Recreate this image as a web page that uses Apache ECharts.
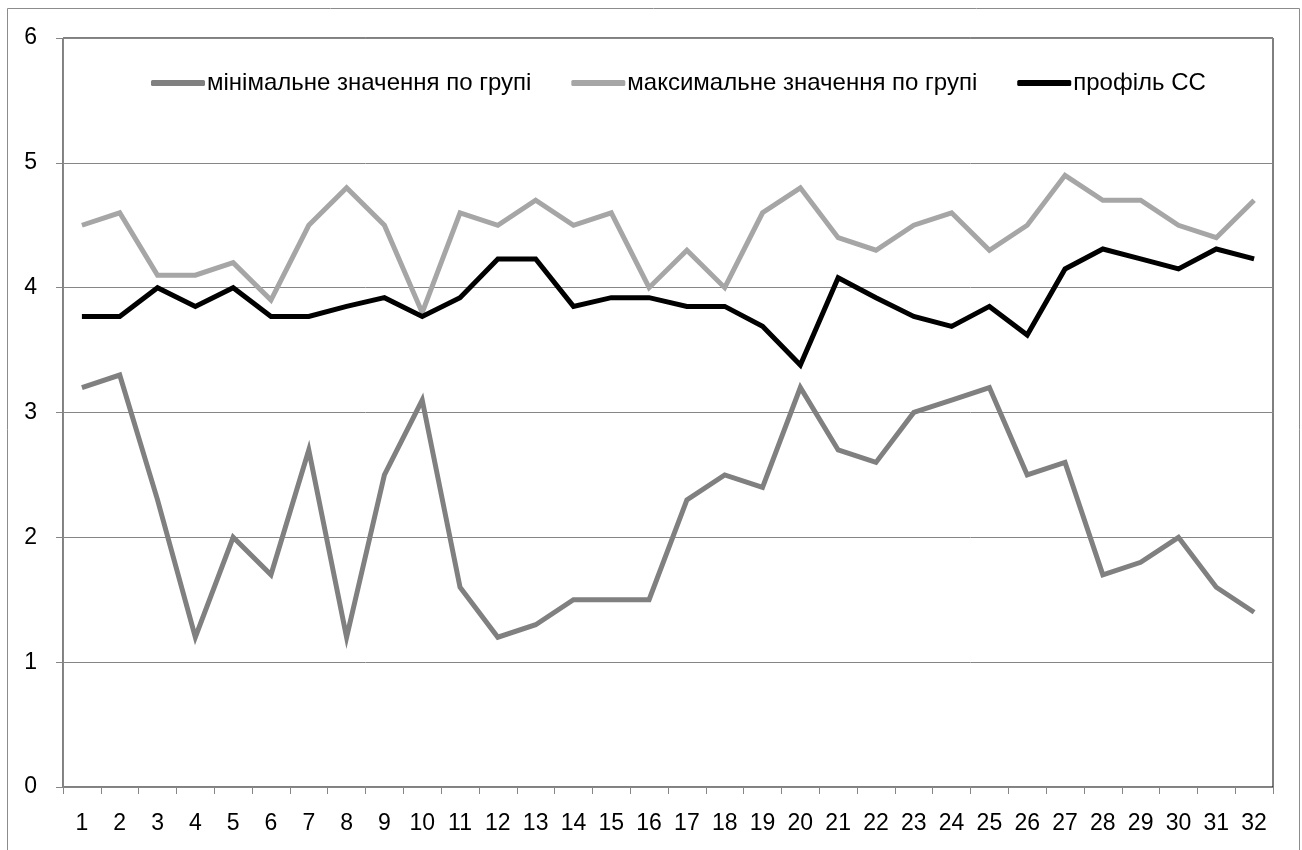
<!DOCTYPE html>
<html>
<head>
<meta charset="utf-8">
<script src="https://cdn.jsdelivr.net/npm/echarts@6/dist/echarts.min.js"></script>
<style>
  html, body { margin: 0; padding: 0; background: #fff; }
  #chart { width: 1302px; height: 850px; }
</style>
</head>
<body>
<div id="chart"></div>
<script>
// значення з графіка
const categories = ["1","2","3","4","5","6","7","8","9","10","11","12","13","14","15","16",
  "17","18","19","20","21","22","23","24","25","26","27","28","29","30","31","32"];
const minValues = [3.2, 3.3, 2.3, 1.2, 2.0, 1.7, 2.7, 1.2, 2.5, 3.1, 1.6, 1.2, 1.3, 1.5, 1.5, 1.5,
  2.3, 2.5, 2.4, 3.2, 2.7, 2.6, 3.0, 3.1, 3.2, 2.5, 2.6, 1.7, 1.8, 2.0, 1.6, 1.4];
const maxValues = [4.5, 4.6, 4.1, 4.1, 4.2, 3.9, 4.5, 4.8, 4.5, 3.8, 4.6, 4.5, 4.7, 4.5, 4.6, 4.0,
  4.3, 4.0, 4.6, 4.8, 4.4, 4.3, 4.5, 4.6, 4.3, 4.5, 4.9, 4.7, 4.7, 4.5, 4.4, 4.7];
const profileValues = [3.77, 3.77, 4.0, 3.85, 4.0, 3.77, 3.77, 3.85, 3.92, 3.77, 3.92, 4.23, 4.23, 3.85, 3.92, 3.92,
  3.85, 3.85, 3.69, 3.38, 4.08, 3.92, 3.77, 3.69, 3.85, 3.62, 4.15, 4.31, 4.23, 4.15, 4.31, 4.23];
const seriesNames = ["мінімальне значення по групі", "максимальне значення по групі", "профіль СС"];
const yTicks = [0, 1, 2, 3, 4, 5, 6];

const font = "Liberation Sans";
const chart = echarts.init(document.getElementById("chart"));

function lineSeries(name, data, color) {
  return {
    name: name,
    type: "line",
    data: data,
    symbol: "none",
    smooth: false,
    lineStyle: { color: color, width: 5, join: "miter" },
    itemStyle: { color: color },
  };
}

const option = {
  animation: false,
  backgroundColor: "#fff",
  textStyle: { fontFamily: font },
  graphic: [
    {
      type: "rect",
      shape: { x: 7.5, y: 8.5, width: 1292, height: 900 },
      style: { fill: "none", stroke: "#8c8c8c", lineWidth: 1 },
      silent: true,
    },
  ],
  grid: {
    left: 63,
    right: 29,
    top: 38,
    bottom: 63,
    show: true,
    borderColor: "#000",
    borderWidth: 1,
  },
  legend: {
    top: 66,
    left: 146,
    icon: "roundRect",
    itemWidth: 54,
    itemHeight: 6,
    itemGap: 40,
    textStyle: { fontFamily: font, fontSize: 24, color: "#000", padding: [0, 0, 0, -3] },
    data: seriesNames,
  },
  xAxis: {
    type: "category",
    data: categories,
    boundaryGap: true,
    axisLine: { lineStyle: { color: "#868686", width: 1 } },
    axisTick: { show: true, length: 7, alignWithLabel: false, lineStyle: { color: "#868686" } },
    axisLabel: { color: "#000", fontSize: 23, fontFamily: font, margin: 25, interval: 0 },
  },
  yAxis: {
    type: "value",
    min: yTicks[0],
    max: yTicks[yTicks.length - 1],
    interval: 1,
    axisLine: { show: true, lineStyle: { color: "#868686", width: 1 } },
    axisTick: { show: true, length: 7, lineStyle: { color: "#868686" } },
    axisLabel: { color: "#000", fontSize: 23, fontFamily: font, margin: 26 },
    splitLine: { lineStyle: { color: "#868686", width: 1 } },
  },
  series: [
    lineSeries(seriesNames[0], minValues, "#808080"),
    lineSeries(seriesNames[1], maxValues, "#a6a6a6"),
    lineSeries(seriesNames[2], profileValues, "#000000"),
  ],
};

chart.setOption(option);
</script>
</body>
</html>
